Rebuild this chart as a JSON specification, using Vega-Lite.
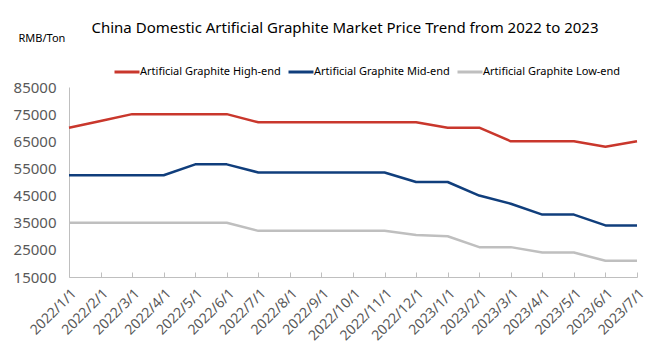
{
  "$schema": "https://vega.github.io/schema/vega-lite/v6.json",
  "autosize": "none",
  "width": 568,
  "height": 190,
  "padding": {"left": 69, "top": 87, "right": 20, "bottom": 87},
  "background": "white",
  "config": {"view": {"stroke": null}, "font": "Noto Sans"},
  "title": {"text": "China Domestic Artificial Graphite Market Price Trend from 2022 to 2023", "fontSize": 15, "fontWeight": "normal", "color": "#000000", "anchor": "middle", "offset": -4, "dx": -8, "font": "Noto Sans"},
  "datasets": {
    "prices": [
      {"date": "2022/1/1", "series": "Artificial Graphite High-end", "price": 70000},
      {"date": "2022/2/1", "series": "Artificial Graphite High-end", "price": 72500},
      {"date": "2022/3/1", "series": "Artificial Graphite High-end", "price": 75000},
      {"date": "2022/4/1", "series": "Artificial Graphite High-end", "price": 75000},
      {"date": "2022/5/1", "series": "Artificial Graphite High-end", "price": 75000},
      {"date": "2022/6/1", "series": "Artificial Graphite High-end", "price": 75000},
      {"date": "2022/7/1", "series": "Artificial Graphite High-end", "price": 72000},
      {"date": "2022/8/1", "series": "Artificial Graphite High-end", "price": 72000},
      {"date": "2022/9/1", "series": "Artificial Graphite High-end", "price": 72000},
      {"date": "2022/10/1", "series": "Artificial Graphite High-end", "price": 72000},
      {"date": "2022/11/1", "series": "Artificial Graphite High-end", "price": 72000},
      {"date": "2022/12/1", "series": "Artificial Graphite High-end", "price": 72000},
      {"date": "2023/1/1", "series": "Artificial Graphite High-end", "price": 70000},
      {"date": "2023/2/1", "series": "Artificial Graphite High-end", "price": 70000},
      {"date": "2023/3/1", "series": "Artificial Graphite High-end", "price": 65000},
      {"date": "2023/4/1", "series": "Artificial Graphite High-end", "price": 65000},
      {"date": "2023/5/1", "series": "Artificial Graphite High-end", "price": 65000},
      {"date": "2023/6/1", "series": "Artificial Graphite High-end", "price": 63000},
      {"date": "2023/7/1", "series": "Artificial Graphite High-end", "price": 65000},
      {"date": "2022/1/1", "series": "Artificial Graphite Mid-end", "price": 52500},
      {"date": "2022/2/1", "series": "Artificial Graphite Mid-end", "price": 52500},
      {"date": "2022/3/1", "series": "Artificial Graphite Mid-end", "price": 52500},
      {"date": "2022/4/1", "series": "Artificial Graphite Mid-end", "price": 52500},
      {"date": "2022/5/1", "series": "Artificial Graphite Mid-end", "price": 56500},
      {"date": "2022/6/1", "series": "Artificial Graphite Mid-end", "price": 56500},
      {"date": "2022/7/1", "series": "Artificial Graphite Mid-end", "price": 53500},
      {"date": "2022/8/1", "series": "Artificial Graphite Mid-end", "price": 53500},
      {"date": "2022/9/1", "series": "Artificial Graphite Mid-end", "price": 53500},
      {"date": "2022/10/1", "series": "Artificial Graphite Mid-end", "price": 53500},
      {"date": "2022/11/1", "series": "Artificial Graphite Mid-end", "price": 53500},
      {"date": "2022/12/1", "series": "Artificial Graphite Mid-end", "price": 50000},
      {"date": "2023/1/1", "series": "Artificial Graphite Mid-end", "price": 50000},
      {"date": "2023/2/1", "series": "Artificial Graphite Mid-end", "price": 45000},
      {"date": "2023/3/1", "series": "Artificial Graphite Mid-end", "price": 42000},
      {"date": "2023/4/1", "series": "Artificial Graphite Mid-end", "price": 38000},
      {"date": "2023/5/1", "series": "Artificial Graphite Mid-end", "price": 38000},
      {"date": "2023/6/1", "series": "Artificial Graphite Mid-end", "price": 34000},
      {"date": "2023/7/1", "series": "Artificial Graphite Mid-end", "price": 34000},
      {"date": "2022/1/1", "series": "Artificial Graphite Low-end", "price": 35000},
      {"date": "2022/2/1", "series": "Artificial Graphite Low-end", "price": 35000},
      {"date": "2022/3/1", "series": "Artificial Graphite Low-end", "price": 35000},
      {"date": "2022/4/1", "series": "Artificial Graphite Low-end", "price": 35000},
      {"date": "2022/5/1", "series": "Artificial Graphite Low-end", "price": 35000},
      {"date": "2022/6/1", "series": "Artificial Graphite Low-end", "price": 35000},
      {"date": "2022/7/1", "series": "Artificial Graphite Low-end", "price": 32000},
      {"date": "2022/8/1", "series": "Artificial Graphite Low-end", "price": 32000},
      {"date": "2022/9/1", "series": "Artificial Graphite Low-end", "price": 32000},
      {"date": "2022/10/1", "series": "Artificial Graphite Low-end", "price": 32000},
      {"date": "2022/11/1", "series": "Artificial Graphite Low-end", "price": 32000},
      {"date": "2022/12/1", "series": "Artificial Graphite Low-end", "price": 30500},
      {"date": "2023/1/1", "series": "Artificial Graphite Low-end", "price": 30000},
      {"date": "2023/2/1", "series": "Artificial Graphite Low-end", "price": 26000},
      {"date": "2023/3/1", "series": "Artificial Graphite Low-end", "price": 26000},
      {"date": "2023/4/1", "series": "Artificial Graphite Low-end", "price": 24000},
      {"date": "2023/5/1", "series": "Artificial Graphite Low-end", "price": 24000},
      {"date": "2023/6/1", "series": "Artificial Graphite Low-end", "price": 21000},
      {"date": "2023/7/1", "series": "Artificial Graphite Low-end", "price": 21000}
    ]
  },
  "data": {"name": "prices"},
  "mark": {"type": "line", "strokeWidth": 2.5, "strokeJoin": "round"},
  "encoding": {
    "x": {
      "field": "date",
      "type": "ordinal",
      "scale": {"type": "point", "padding": 0, "domain": ["2022/1/1","2022/2/1","2022/3/1","2022/4/1","2022/5/1","2022/6/1","2022/7/1","2022/8/1","2022/9/1","2022/10/1","2022/11/1","2022/12/1","2023/1/1","2023/2/1","2023/3/1","2023/4/1","2023/5/1","2023/6/1","2023/7/1"]},
      "axis": {
        "title": null,
        "labelAngle": -45,
        "labelFontSize": 14,
        "labelColor": "#595959",
        "labelFont": "Noto Sans",
        "domainColor": "#BFBFBF",
        "tickColor": "#BFBFBF",
        "tickSize": -5,
        "labelPadding": 14,
        "grid": false
      }
    },
    "y": {
      "field": "price",
      "type": "quantitative",
      "scale": {"domain": [15000, 85000], "nice": false, "zero": false},
      "axis": {
        "values": [15000, 25000, 35000, 45000, 55000, 65000, 75000, 85000],
        "format": "d",
        "grid": false,
        "ticks": false,
        "labelFontSize": 15,
        "labelColor": "#595959",
        "labelFont": "Noto Sans",
        "labelPadding": 13,
        "domainColor": "#BFBFBF",
        "title": "RMB/Ton",
        "titleAngle": 0,
        "titleX": -51,
        "titleY": -49,
        "titleAlign": "left",
        "titleBaseline": "middle",
        "titleFontSize": 11,
        "titleFontWeight": "normal",
        "titleColor": "#000000",
        "titleFont": "Noto Sans"
      }
    },
    "color": {
      "field": "series",
      "type": "nominal",
      "scale": {"domain": ["Artificial Graphite High-end", "Artificial Graphite Mid-end", "Artificial Graphite Low-end"], "range": ["#C9372C", "#103E7C", "#BFBFBF"]},
      "legend": {
        "title": null,
        "orient": "none",
        "direction": "horizontal",
        "legendX": 44,
        "legendY": -29,
        "symbolType": "stroke",
        "symbolSize": 625,
        "symbolStrokeWidth": 3,
        "labelFontSize": 11,
        "labelColor": "#000000",
        "labelFont": "Noto Sans",
        "labelOffset": -1,
        "labelLimit": 300,
        "columnPadding": 1
      }
    }
  }
}
